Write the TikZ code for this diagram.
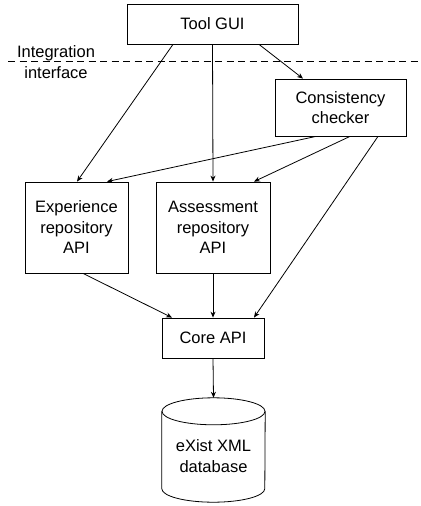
\documentclass[tikz,border=0pt]{standalone}
\usepackage{fontspec}
\setmainfont{Liberation Sans}
\usetikzlibrary{arrows.meta}
\begin{document}
\begin{tikzpicture}[x=1bp,y=-1bp,
  box/.style={draw=black,line width=0.8bp,inner sep=0pt,align=center,font=\fontsize{16.5bp}{20.5bp}\selectfont},
  arr/.style={line width=0.8bp,-{Stealth[length=6bp,width=5bp]}},
  lbl/.style={inner sep=0pt,align=center,font=\fontsize{16.5bp}{21bp}\selectfont}]
\useasboundingbox (0,0) rectangle (420,506);
\node[box,minimum width=171bp,minimum height=40bp] (gui) at (212.5,24) {Tool GUI};
\node[box,minimum width=131bp,minimum height=57bp] (cc) at (340.5,107.5) {Consistency\\checker};
\node[box,minimum width=103bp,minimum height=91bp] (exp) at (76.5,227.5) {Experience\\repository\\API};
\node[box,minimum width=114bp,minimum height=91bp] (ass) at (213,227.5) {Assessment\\repository\\API};
\node[box,minimum width=102bp,minimum height=40bp] (core) at (213,338) {Core API};
\node[inner sep=0pt,minimum width=103bp,minimum height=104bp] (db) at (213.5,450) {};
\node[lbl] (dbt) at (213.5,456) {eXist XML\\database};
\node[lbl] (int) at (56,62) {Integration\\interface};
\coordinate (dl) at (8,61);
\coordinate (dr) at (420,61);
% dashed line
\draw[line width=0.8bp,dash pattern=on 7bp off 4.5bp] (dl) -- (dr);
% cylinder
\draw[line width=0.8bp] ([yshift=-13.5bp]db.north west) -- ([yshift=13.5bp]db.south west)
  arc[start angle=180,end angle=360,x radius=51.5bp,y radius=13.5bp]
  -- ([yshift=-13.5bp]db.north east);
\draw[line width=0.8bp] ([yshift=-13.5bp]db.north) ellipse[x radius=51.5bp,y radius=13.5bp];
% arrows
\draw[arr] ([xshift=-39.5bp]gui.south) -- ([xshift=0.5bp]exp.north);
\draw[arr] (gui.south) -- (ass.north);
\draw[arr] ([xshift=46.5bp]gui.south) -- ([xshift=-37.5bp]cc.north);
\draw[arr] ([xshift=-24.5bp]cc.south) -- ([xshift=30.5bp]exp.north);
\draw[arr] ([xshift=9.5bp]cc.south) -- ([xshift=41bp]ass.north);
\draw[arr] ([xshift=37.5bp]cc.south) -- ([xshift=41bp]core.north);
\draw[arr] ([xshift=6.5bp]exp.south) -- ([xshift=-41bp]core.north);
\draw[arr] (ass.south) -- (core.north);
\draw[arr] (core.south) -- (db.north);
\end{tikzpicture}
\end{document}
